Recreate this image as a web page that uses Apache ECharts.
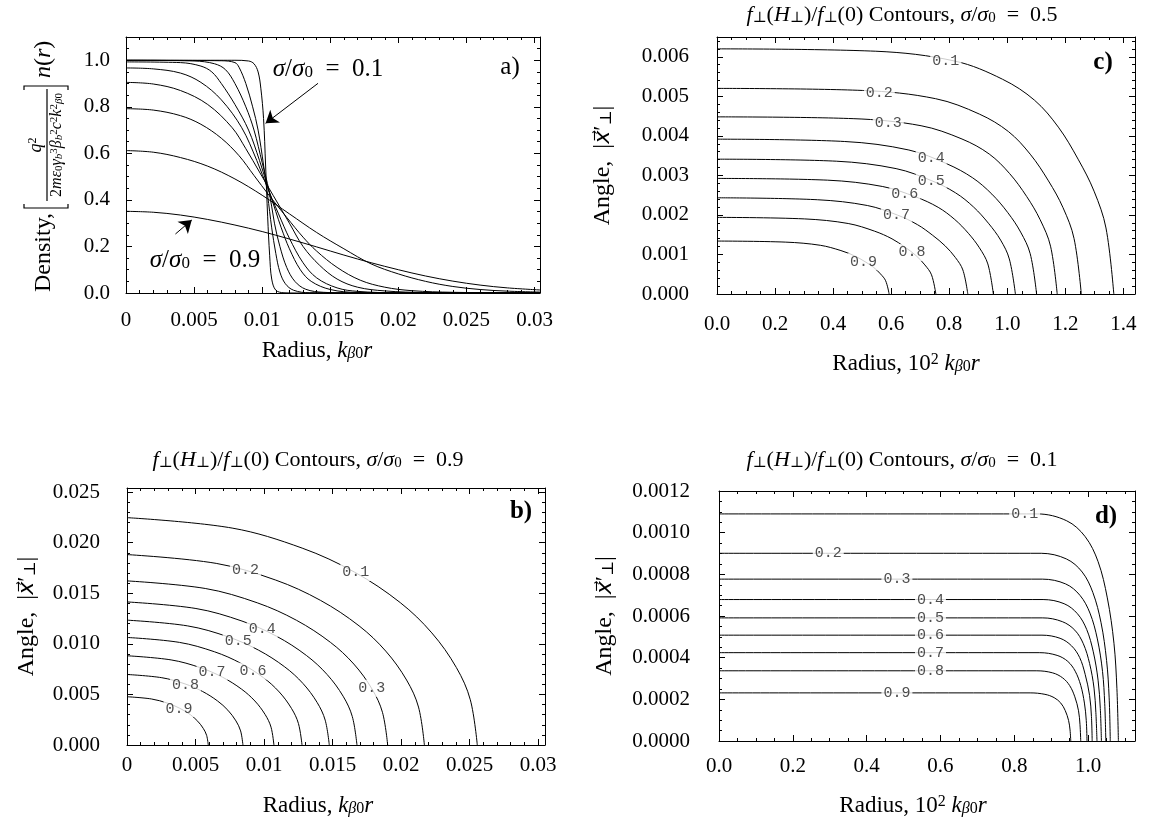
<!DOCTYPE html>
<html><head><meta charset="utf-8">
<script src="https://cdn.jsdelivr.net/npm/echarts@6/dist/echarts.min.js"></script>
<style>html,body{margin:0;padding:0;background:#fff}#c{width:1150px;height:827px}</style>
</head><body><div id="c"></div><script>
// ---------------- data ----------------
const levels = ['0.1','0.2','0.3','0.4','0.5','0.6','0.7','0.8','0.9'];

// panel a: density profiles n(r) for sigma/sigma0 = 0.1 ... 0.9  ([radius, density])
const nSigma01 = [[0,1.0],[0.008,1.0],[0.009,0.997],[0.0094,0.985],[0.0097,0.95],[0.0099,0.88],[0.0101,0.75],[0.01025,0.55],[0.0104,0.33],[0.01055,0.16],[0.0107,0.06],[0.011,0.012],[0.0116,0.001],[0.0125,0],[0.0304,0]];
const nSigma02 = [[0,1.0],[0.007,0.998],[0.008,0.99],[0.0083,0.97],[0.0088,0.9],[0.0093,0.8],[0.0097,0.7],[0.0101,0.55],[0.0104,0.42],[0.0107,0.28],[0.011,0.17],[0.0113,0.09],[0.0117,0.04],[0.0123,0.012],[0.0135,0.001],[0.0304,0]];
const nSigma03 = [[0,1.0],[0.005,0.997],[0.0065,0.985],[0.0073,0.96],[0.008,0.9],[0.0088,0.8],[0.0094,0.7],[0.01,0.56],[0.0105,0.44],[0.0109,0.3],[0.0113,0.2],[0.0118,0.11],[0.0124,0.05],[0.0132,0.016],[0.0145,0.003],[0.017,0],[0.0304,0]];
const nSigma04 = [[0,0.993],[0.004,0.99],[0.0055,0.975],[0.0063,0.95],[0.007,0.9],[0.008,0.81],[0.009,0.7],[0.0098,0.57],[0.0105,0.44],[0.011,0.35],[0.0114,0.28],[0.012,0.19],[0.0128,0.1],[0.0136,0.05],[0.015,0.015],[0.017,0.002],[0.02,0],[0.0304,0]];
const nSigma05 = [[0,0.967],[0.002,0.963],[0.004,0.945],[0.0055,0.905],[0.007,0.83],[0.0085,0.71],[0.0096,0.57],[0.0104,0.45],[0.0112,0.34],[0.012,0.235],[0.013,0.13],[0.014,0.065],[0.0155,0.022],[0.017,0.007],[0.02,0.001],[0.0304,0]];
const nSigma06 = [[0,0.905],[0.002,0.898],[0.004,0.87],[0.006,0.81],[0.0078,0.71],[0.0088,0.62],[0.0098,0.52],[0.0108,0.42],[0.012,0.3],[0.013,0.2],[0.0142,0.12],[0.0155,0.06],[0.017,0.025],[0.019,0.009],[0.022,0.002],[0.0304,0]];
const nSigma07 = [[0,0.792],[0.002,0.786],[0.004,0.762],[0.0055,0.725],[0.007,0.665],[0.0083,0.59],[0.0094,0.505],[0.0105,0.42],[0.0118,0.325],[0.013,0.24],[0.014,0.18],[0.0155,0.11],[0.0172,0.055],[0.019,0.025],[0.021,0.01],[0.024,0.003],[0.0304,0]];
const nSigma08 = [[0,0.612],[0.002,0.605],[0.004,0.582],[0.006,0.545],[0.008,0.49],[0.01,0.42],[0.012,0.34],[0.014,0.26],[0.016,0.19],[0.018,0.125],[0.02,0.082],[0.022,0.05],[0.024,0.028],[0.026,0.015],[0.028,0.008],[0.0304,0.004]];
const nSigma09 = [[0,0.351],[0.002,0.347],[0.004,0.335],[0.006,0.316],[0.008,0.292],[0.01,0.264],[0.012,0.232],[0.014,0.198],[0.016,0.163],[0.018,0.13],[0.02,0.1],[0.022,0.073],[0.024,0.051],[0.026,0.034],[0.028,0.022],[0.0304,0.013]];
const arrowTo01 = [[0.0141,0.901],[0.01025,0.729]];
const arrowTo09 = [[0.00363,0.2535],[0.00483,0.3137]];

// panel c: contours, sigma/sigma0 = 0.5  ([10^2 k r, angle])
const cLevel01 = [[0,0.0062],[0.547,0.00614],[0.82,0.00589],[0.984,0.00543],[1.094,0.0049],[1.176,0.00422],[1.244,0.00341],[1.299,0.0026],[1.34,0.00167],[1.367,0]];
const cLevel02 = [[0,0.0052],[0.502,0.005148],[0.753,0.00494],[0.904,0.00455],[1.004,0.004108],[1.079,0.003536],[1.142,0.00286],[1.192,0.002184],[1.23,0.001404],[1.255,0]];
const cLevel03 = [[0,0.00448],[0.469,0.004435],[0.703,0.004256],[0.844,0.00392],[0.938,0.003539],[1.008,0.003046],[1.067,0.002464],[1.113,0.001882],[1.149,0.00121],[1.172,0]];
const cLevel04 = [[0,0.003916],[0.44,0.003857],[0.661,0.003642],[0.793,0.003289],[0.881,0.002937],[0.947,0.002526],[1.002,0.002056],[1.046,0.001566],[1.079,0.001018],[1.101,0]];
const cLevel05 = [[0,0.00341],[0.411,0.003359],[0.617,0.003171],[0.74,0.002864],[0.822,0.002558],[0.884,0.002199],[0.935,0.00179],[0.977,0.001364],[1.007,0.000887],[1.028,0]];
const cLevel06 = [[0,0.002923],[0.381,0.002879],[0.571,0.002718],[0.685,0.002455],[0.762,0.002192],[0.819,0.001885],[0.866,0.001535],[0.904,0.001169],[0.933,0.00076],[0.952,0]];
const cLevel07 = [[0,0.002433],[0.346,0.002384],[0.518,0.002238],[0.622,0.001995],[0.691,0.001752],[0.743,0.001484],[0.786,0.001217],[0.821,0.000925],[0.847,0.000608],[0.864,0]];
const cLevel08 = [[0,0.001938],[0.302,0.001899],[0.452,0.001783],[0.543,0.001589],[0.603,0.001395],[0.648,0.001182],[0.686,0.000969],[0.716,0.000736],[0.739,0.000485],[0.754,0]];
const cLevel09 = [[0,0.001339],[0.237,0.001312],[0.356,0.001232],[0.427,0.001098],[0.474,0.000964],[0.51,0.000817],[0.54,0.00067],[0.563,0.000509],[0.581,0.000335],[0.593,0]];
const cLabels = [[0.788,0.0059,'0.1'],[0.559,0.00508,'0.2'],[0.59,0.00433,'0.3'],[0.738,0.00343,'0.4'],[0.738,0.00286,'0.5'],[0.647,0.00252,'0.6'],[0.618,0.00199,'0.7'],[0.672,0.00105,'0.8'],[0.505,0.00082,'0.9']];

// panel b: contours, sigma/sigma0 = 0.9  ([k r, angle])
const bLevel01 = [[0,0.02247],[0.00767,0.02144],[0.01278,0.01946],[0.01661,0.01708],[0.01994,0.01407],[0.02224,0.01108],[0.02403,0.00766],[0.02505,0.00447],[0.02556,0]];
const bLevel02 = [[0,0.01882],[0.00651,0.01795],[0.01085,0.0163],[0.01411,0.0143],[0.01693,0.01178],[0.01888,0.00928],[0.0204,0.00642],[0.02127,0.00375],[0.0217,0]];
const bLevel03 = [[0,0.01622],[0.00571,0.01547],[0.00951,0.01405],[0.01236,0.01233],[0.01484,0.01015],[0.01655,0.008],[0.01788,0.00553],[0.01864,0.00323],[0.01902,0]];
const bLevel04 = [[0,0.01414],[0.00503,0.01349],[0.00839,0.01225],[0.01091,0.01075],[0.01309,0.00885],[0.0146,0.00697],[0.01577,0.00482],[0.01644,0.00281],[0.01678,0]];
const bLevel05 = [[0,0.01234],[0.00443,0.01177],[0.00738,0.01069],[0.00959,0.00938],[0.01151,0.00772],[0.01284,0.00608],[0.01387,0.00421],[0.01446,0.00246],[0.01476,0]];
const bLevel06 = [[0,0.01063],[0.00383,0.01014],[0.00639,0.00921],[0.0083,0.00808],[0.00996,0.00665],[0.01111,0.00524],[0.012,0.00362],[0.01251,0.00212],[0.01277,0]];
const bLevel07 = [[0,0.00882],[0.00322,0.00841],[0.00536,0.00764],[0.00697,0.0067],[0.00836,0.00552],[0.00933,0.00435],[0.01008,0.00301],[0.01051,0.00176],[0.01072,0]];
const bLevel08 = [[0,0.00697],[0.00254,0.00665],[0.00423,0.00604],[0.0055,0.0053],[0.0066,0.00436],[0.00736,0.00344],[0.00795,0.00238],[0.00829,0.00139],[0.00846,0]];
const bLevel09 = [[0,0.00477],[0.00178,0.00455],[0.00297,0.00413],[0.00385,0.00363],[0.00463,0.00299],[0.00516,0.00235],[0.00557,0.00163],[0.00581,0.00095],[0.00593,0]];
const bLabels = [[0.0167,0.01705,'0.1'],[0.00864,0.01725,'0.2'],[0.01785,0.0056,'0.3'],[0.00987,0.01146,'0.4'],[0.00811,0.0103,'0.5'],[0.0092,0.0073,'0.6'],[0.0062,0.0072,'0.7'],[0.00426,0.0059,'0.8'],[0.0038,0.0036,'0.9']];

// panel d: contours, sigma/sigma0 = 0.1  ([10^2 k r, angle])
const dLevel01 = [[0,0.00109],[0.862,0.00109],[0.942,0.001057],[0.992,0.000981],[1.027,0.000861],[1.052,0.000687],[1.07,0.000469],[1.078,0.000251],[1.082,0]];
const dLevel02 = [[0,0.000901],[0.873,0.000901],[0.941,0.000874],[0.984,0.000811],[1.013,0.000712],[1.035,0.000568],[1.05,0.000387],[1.057,0.000207],[1.06,0]];
const dLevel03 = [[0,0.000777],[0.876,0.000777],[0.939,0.000754],[0.978,0.000699],[1.005,0.000614],[1.025,0.00049],[1.039,0.000334],[1.045,0.000179],[1.048,0]];
const dLevel04 = [[0,0.000679],[0.878,0.000679],[0.935,0.000659],[0.971,0.000611],[0.996,0.000536],[1.014,0.000428],[1.027,0.000292],[1.033,0.000156],[1.036,0]];
const dLevel05 = [[0,0.000591],[0.877,0.000591],[0.93,0.000573],[0.964,0.000532],[0.987,0.000467],[1.004,0.000372],[1.016,0.000254],[1.021,0.000136],[1.024,0]];
const dLevel06 = [[0,0.000508],[0.875,0.000508],[0.924,0.000493],[0.955,0.000457],[0.977,0.000401],[0.992,0.00032],[1.004,0.000218],[1.009,0.000117],[1.011,0]];
const dLevel07 = [[0,0.000424],[0.869,0.000424],[0.916,0.000411],[0.945,0.000382],[0.965,0.000335],[0.98,0.000267],[0.99,0.000182],[0.995,0.000098],[0.997,0]];
const dLevel08 = [[0,0.000337],[0.861,0.000337],[0.904,0.000327],[0.931,0.000303],[0.95,0.000266],[0.964,0.000212],[0.974,0.000145],[0.978,0.000078],[0.98,0]];
const dLevel09 = [[0,0.000231],[0.843,0.000231],[0.883,0.000224],[0.908,0.000208],[0.926,0.000182],[0.938,0.000146],[0.947,0.000099],[0.951,0.000053],[0.953,0]];
const dLabels = [[0.828,0.00109,'0.1'],[0.296,0.000901,'0.2'],[0.482,0.000777,'0.3'],[0.573,0.000679,'0.4'],[0.573,0.000591,'0.5'],[0.573,0.000508,'0.6'],[0.573,0.000424,'0.7'],[0.573,0.000337,'0.8'],[0.482,0.000231,'0.9']];

// axis settings
const axisA = {x:{min:0,max:0.0304,interval:0.005,minor:5,dec:3,strip:true}, y:{min:0,max:1.1,interval:0.2,minor:4,dec:1}};
const axisC = {x:{min:0,max:1.44,interval:0.2,minor:4,dec:1}, y:{min:0,max:0.0065,interval:0.001,minor:5,dec:3}};
const axisB = {x:{min:0,max:0.0305,interval:0.005,minor:5,dec:3,strip:true}, y:{min:0,max:0.0254,interval:0.005,minor:5,dec:3}};
const axisD = {x:{min:0,max:1.127,interval:0.2,minor:4,dec:1}, y:{min:0,max:0.0012,interval:0.0002,minor:4,dec:4}};

// ---------------- chart ----------------
const SERIF = "'Liberation Serif','DejaVu Serif',serif";
const MONO = "'Liberation Mono','DejaVu Sans Mono',monospace";
function rich(size){
  const sub = Math.round(size*0.68);
  return {
    i:{fontFamily:SERIF,fontStyle:'italic',fontSize:size,color:'#000',fill:'#000'},
    v:{fontFamily:"'DejaVu Serif','DejaVu Sans',serif",fontStyle:'italic',fontSize:size-2,color:'#000',fill:'#000'},
    s:{fontFamily:SERIF,fontSize:sub,verticalAlign:'bottom',color:'#000',fill:'#000'},
    si:{fontFamily:SERIF,fontStyle:'italic',fontSize:sub,verticalAlign:'bottom',color:'#000',fill:'#000'},
    p:{fontFamily:SERIF,fontSize:sub,verticalAlign:'top',color:'#000',fill:'#000'}
  };
}
function fmt(c){
  return function(v){
    const k = v / c.interval;
    if (Math.abs(k - Math.round(k)) > 1e-6) return '';
    const s = v.toFixed(c.dec);
    return c.strip ? String(+s) : s;
  };
}
const TICK_FS = 21, NAME_FS = 23, YNAME_FS = 24;
const common = {
  type:'value', splitLine:{show:false}, minorSplitLine:{show:false},
  axisLine:{show:true,onZero:false,lineStyle:{color:'#000',width:1}},
  axisTick:{show:true,inside:true,length:6,lineStyle:{color:'#000',width:1}},
  minorTick:{show:true,length:3,lineStyle:{color:'#000',width:1}}
};
function xAxes(grid, c, margin, name, nameGap, shift){
  const base = Object.assign({}, common, {gridIndex:grid,min:c.min,max:c.max,interval:c.interval,
    minorTick:Object.assign({}, common.minorTick, {splitNumber:c.minor})});
  return [
    Object.assign({}, base, {position:'bottom',
      axisLabel:{show:true,margin:margin,formatter:fmt(c),fontFamily:SERIF,fontSize:TICK_FS,color:'#000'},
      name:name,nameLocation:'middle',nameGap:nameGap,
      nameTextStyle:{fontFamily:SERIF,fontSize:NAME_FS,color:'#000',rich:rich(NAME_FS),padding:[0,2*shift,0,0]}}),
    Object.assign({}, base, {position:'top',axisLabel:{show:false}})
  ];
}
function yAxes(grid, c, margin, name, nameGap){
  const base = Object.assign({}, common, {gridIndex:grid,min:c.min,max:c.max,interval:c.interval,
    minorTick:Object.assign({}, common.minorTick, {splitNumber:c.minor})});
  const left = Object.assign({}, base, {position:'left',
      axisLabel:{show:true,margin:margin,formatter:fmt(c),fontFamily:SERIF,fontSize:TICK_FS,color:'#000'}});
  if (name){
    Object.assign(left, {name:name,nameLocation:'middle',nameGap:nameGap,nameRotate:90,
      nameTextStyle:{fontFamily:SERIF,fontSize:YNAME_FS,color:'#000',rich:rich(YNAME_FS)}});
  }
  return [left, Object.assign({}, base, {position:'right',axisLabel:{show:false}})];
}
function curve(data, xi, yi, extra){
  return Object.assign({type:'line',xAxisIndex:xi,yAxisIndex:yi,data:data,symbol:'none',showSymbol:false,
    smooth:0.35,silent:true,clip:true,lineStyle:{color:'#000',width:1},z:2}, extra||{});
}
function labels(data, xi, yi){
  return {type:'scatter',xAxisIndex:xi,yAxisIndex:yi,data:data,symbolSize:1,silent:true,z:5,
    itemStyle:{color:'rgba(0,0,0,0)'},
    label:{show:true,position:'inside',formatter:p=>p.value[2],fontFamily:MONO,fontSize:15,
      color:'#222',backgroundColor:'#fff',padding:[1,2]}};
}
function arrow(seg){
  return {silent:true,symbol:['none','arrow'],symbolSize:12,animation:false,
    lineStyle:{color:'#000',width:1,type:'solid'},label:{show:false},
    data:[[{coord:seg[0]},{coord:seg[1]}]]};
}

const EQ = '\u2002=\u2002';
const angleName = 'Angle,  |{v|x\u20D7}\u2032{s|\u22A5}|';
const radName = 'Radius, {i|k}{si|\u03B2}{s|0}{i|r}';
const radName2 = 'Radius, 10{p|2} {i|k}{si|\u03B2}{s|0}{i|r}';

const xs = [].concat(
  xAxes(0, axisA.x, 17, radName, 46, 16),
  xAxes(1, axisC.x, 20, radName2, 58, 20),
  xAxes(2, axisB.x, 10, radName, 49, 18),
  xAxes(3, axisD.x, 15, radName2, 53, 14)
);
const ys = [].concat(
  yAxes(0, axisA.y, 16, null, 0),
  yAxes(1, axisC.y, 28, angleName, 102),
  yAxes(2, axisB.y, 27, angleName, 88),
  yAxes(3, axisD.y, 29, angleName, 102)
);

const dens = [nSigma01,nSigma02,nSigma03,nSigma04,nSigma05,nSigma06,nSigma07,nSigma08,nSigma09];
const cSet = [cLevel01,cLevel02,cLevel03,cLevel04,cLevel05,cLevel06,cLevel07,cLevel08,cLevel09];
const bSet = [bLevel01,bLevel02,bLevel03,bLevel04,bLevel05,bLevel06,bLevel07,bLevel08,bLevel09];
const dSet = [dLevel01,dLevel02,dLevel03,dLevel04,dLevel05,dLevel06,dLevel07,dLevel08,dLevel09];

const series = [];
dens.forEach((d,i)=>{
  const extra = {name:'n'+levels[i]};
  if (i===0) extra.markLine = arrow(arrowTo01);
  if (i===8) extra.markLine = arrow(arrowTo09);
  series.push(curve(d,0,0,extra));
});
cSet.forEach((d,i)=>series.push(curve(d,2,2,{name:'c'+levels[i]})));
bSet.forEach((d,i)=>series.push(curve(d,4,4,{name:'b'+levels[i]})));
dSet.forEach((d,i)=>series.push(curve(d,6,6,{name:'d'+levels[i]})));
series.push(labels(cLabels,2,2));
series.push(labels(bLabels,4,4));
series.push(labels(dLabels,6,6));

function gtext(x,y,text,size,opts){
  return {type:'text',x:x,y:y,silent:true,z:10,style:Object.assign({text:text,fontFamily:SERIF,fontSize:size,
    fill:'#000',align:'center',verticalAlign:'middle',rich:rich(size)},opts||{})};
}
const titleText = s => '{i|f}{s|\u22A5}({i|H}{s|\u22A5})/{i|f}{s|\u22A5}(0) Contours, {i|\u03C3}/{i|\u03C3}{s|0}'+EQ+s;

const densityLabel = {
  type:'group', x:44, y:292, rotation:Math.PI/2, silent:true, z:10,
  children:[
    {type:'text',style:{text:'Density,',x:0,y:0,fontFamily:SERIF,fontSize:24,fill:'#000',align:'left',verticalAlign:'middle'}},
    {type:'polyline',shape:{points:[[88,-20],[84,-20],[84,24],[88,24]]},style:{stroke:'#000',lineWidth:1.2,fill:null}},
    {type:'line',shape:{x1:91,y1:3,x2:203,y2:3},style:{stroke:'#000',lineWidth:1.2}},
    {type:'text',style:{text:'{i|q}{p|2}',x:147,y:1,fontFamily:SERIF,fontSize:18,fill:'#000',align:'center',verticalAlign:'bottom',rich:rich(18)}},
    {type:'text',style:{text:'2{i|m\u03B5}{s|0}{i|\u03B3}{si|b}{p|3}{i|\u03B2}{si|b}{p|2}{i|c}{p|2}{i|k}{p|2}{si|\u03B2}{s|0}',x:147,y:5,fontFamily:SERIF,fontSize:16,fill:'#000',align:'center',verticalAlign:'top',rich:rich(16)}},
    {type:'polyline',shape:{points:[[202,-20],[206,-20],[206,24],[202,24]]},style:{stroke:'#000',lineWidth:1.2,fill:null}},
    {type:'text',style:{text:'{i|n}({i|r})',x:214,y:0,fontFamily:SERIF,fontSize:24,fill:'#000',align:'left',verticalAlign:'middle',rich:rich(24)}}
  ]
};

const graphics = [
  gtext(510,67,'a)',25),
  gtext(1103,63,'c)',25,{fontWeight:'bold'}),
  gtext(521,512,'b)',25,{fontWeight:'bold'}),
  gtext(1106,517,'d)',25,{fontWeight:'bold'}),
  gtext(328,69,'{i|\u03C3}/{i|\u03C3}{s|0}'+EQ+'0.1',25),
  gtext(205,260,'{i|\u03C3}/{i|\u03C3}{s|0}'+EQ+'0.9',25),
  gtext(902,15,titleText('0.5'),22),
  gtext(308,460,titleText('0.9'),22),
  gtext(902,460,titleText('0.1'),22),
  densityLabel
];

const chart = echarts.init(document.getElementById('c'), null, {renderer:'canvas'});
chart.setOption({
  animation:false,
  backgroundColor:'#fff',
  grid:[
    {left:126,top:37,width:414,height:256,outerBoundsMode:'none',containLabel:false},
    {left:717,top:37,width:418,height:257,outerBoundsMode:'none',containLabel:false},
    {left:127,top:488,width:418,height:257,outerBoundsMode:'none',containLabel:false},
    {left:719,top:491,width:416,height:250,outerBoundsMode:'none',containLabel:false}
  ],
  xAxis:xs, yAxis:ys, series:series, graphic:graphics
});
</script></body></html>
